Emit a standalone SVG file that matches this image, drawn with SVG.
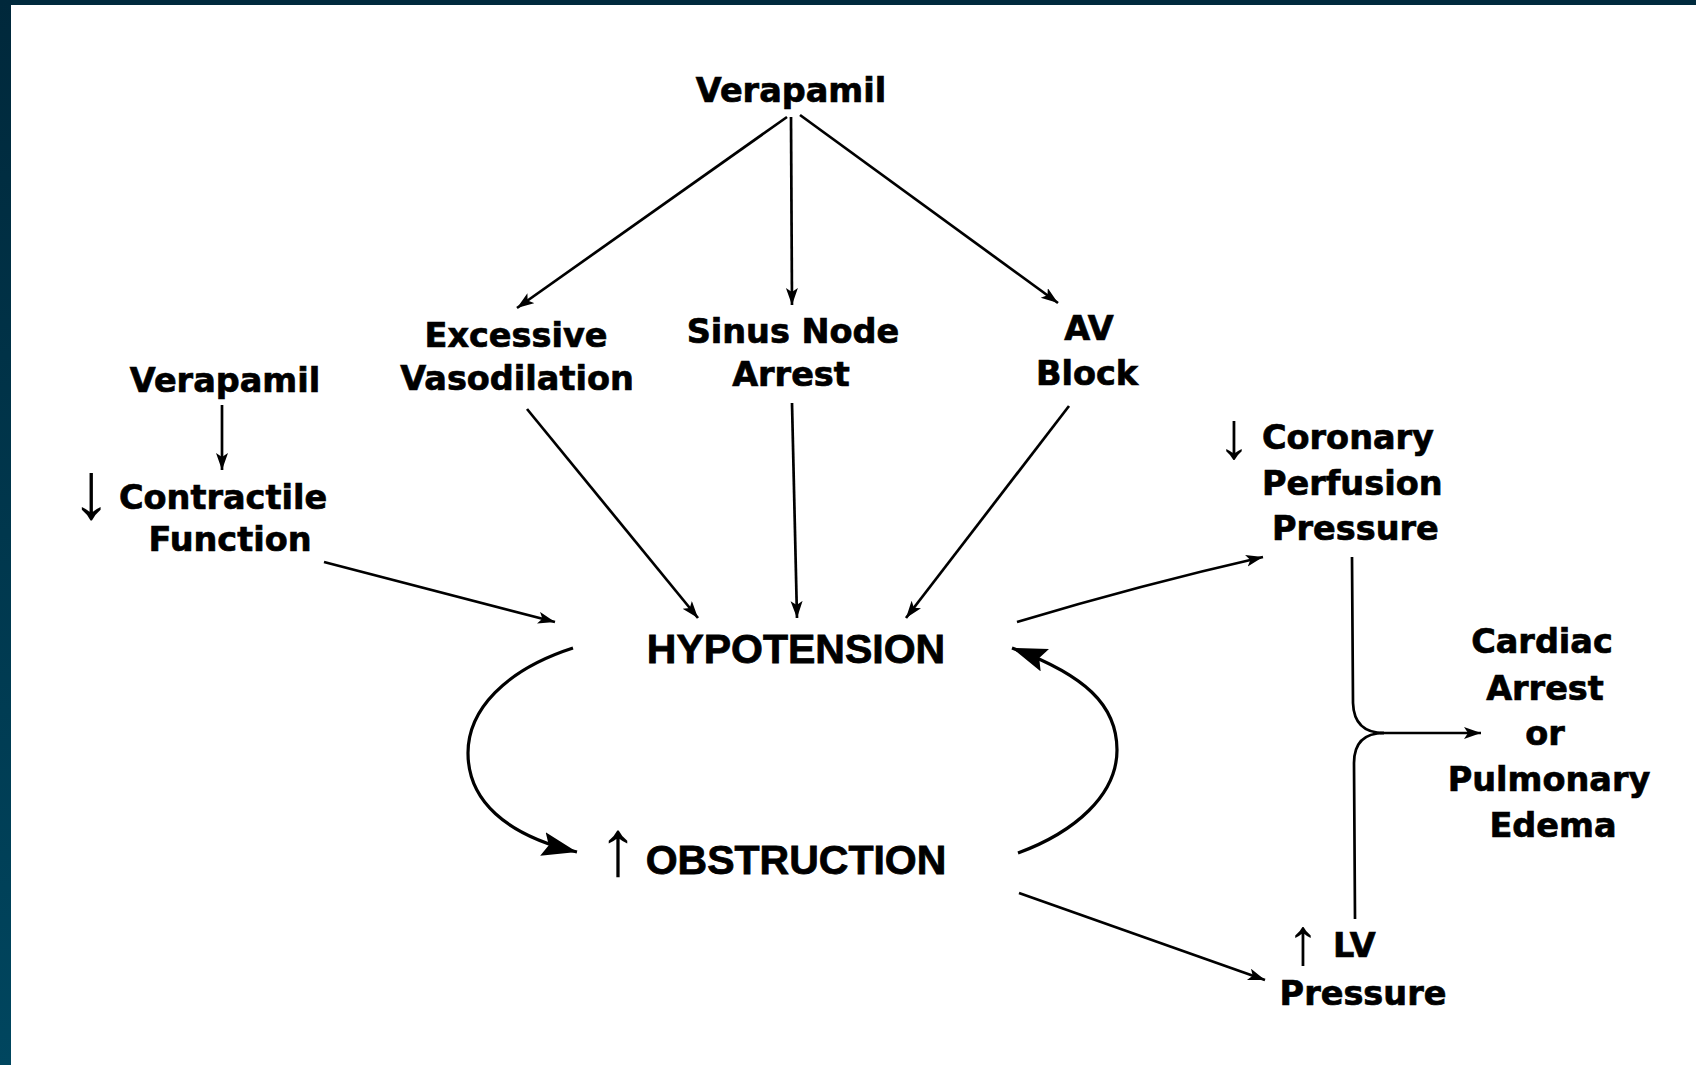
<svg xmlns="http://www.w3.org/2000/svg" width="1696" height="1065" viewBox="0 0 1696 1065">
  <defs>
    <linearGradient id="edge" x1="0" y1="0" x2="0" y2="1">
      <stop offset="0" stop-color="#00283b"/>
      <stop offset="1" stop-color="#00465f"/>
    </linearGradient>
    <marker id="ah" markerUnits="userSpaceOnUse" markerWidth="20" markerHeight="14" refX="17" refY="6" orient="auto">
      <path d="M0,0 L17,6 L0,12 L4,6 z" fill="#000"/>
    </marker>
    <marker id="big" markerUnits="userSpaceOnUse" markerWidth="38" markerHeight="26" refX="35" refY="12" orient="auto">
      <path d="M0,0 L35,12 L0,24 L6,12 z" fill="#000"/>
    </marker>
    <style>
      .lbl { font-family: "DejaVu Sans", "Liberation Sans", sans-serif; font-weight: bold; font-size: 33.5px; fill: #000; stroke: #000; stroke-width: 0.7px; }
      .cap { font-family: "Liberation Sans", Arial, sans-serif; font-weight: bold; font-size: 41px; fill: #000; stroke: #000; stroke-width: 0.8px; }
      .sym { font-family: "Liberation Sans", Arial, sans-serif; font-weight: normal; fill: #000; }
      .ln { fill: none; stroke: #000; stroke-width: 2.7; }
      .arr { marker-end: url(#ah); }
      .barr { marker-end: url(#big); stroke-width: 3.2; }
    </style>
  </defs>
  <rect x="0" y="0" width="1696" height="1065" fill="#fff"/>
  <rect x="0" y="0" width="1696" height="5" fill="#002a3d"/>
  <rect x="0" y="0" width="11" height="1065" fill="url(#edge)"/>

  <g id="connectors">
    <path class="ln arr" d="M787,117 L517,308"/>
    <path class="ln arr" d="M791,117 L792,305"/>
    <path class="ln arr" d="M800,115 L1058,303"/>
    <path class="ln arr" d="M222,405 L222,470"/>
    <path class="ln arr" d="M324,562 L555,622"/>
    <path class="ln arr" d="M527,409 L698,618"/>
    <path class="ln arr" d="M792,403 L797,618"/>
    <path class="ln arr" d="M1069,406 L906,618"/>
    <path class="ln arr" d="M1017,622 Q1140,585 1263,557"/>
    <path class="ln arr" d="M1019,893 L1265,980"/>
    <path class="ln barr" d="M573,648 C505,670 468,710 468,753 C468,800 505,835 577,852"/>
    <path class="ln barr" d="M1018,853 C1075,832 1117,795 1117,750 C1117,705 1085,675 1012,648"/>
    <path class="ln" d="M1352,557 L1353,703 Q1354,733 1384,733"/>
    <path class="ln" d="M1355,919 L1354,763 Q1354,733 1384,733"/>
    <path class="ln arr" d="M1380,733 L1481,733"/>
  </g>

  <g id="node-verapamil-top"><text class="lbl" x="791" y="102" text-anchor="middle">Verapamil</text></g>
  <g id="node-excessive-vasodilation">
    <text class="lbl" x="516" y="347" text-anchor="middle">Excessive</text>
    <text class="lbl" x="517" y="390" text-anchor="middle">Vasodilation</text>
  </g>
  <g id="node-sinus-node-arrest">
    <text class="lbl" x="793" y="343" text-anchor="middle">Sinus Node</text>
    <text class="lbl" x="791" y="386" text-anchor="middle">Arrest</text>
  </g>
  <g id="node-av-block">
    <text class="lbl" x="1089" y="340" text-anchor="middle">AV</text>
    <text class="lbl" x="1087" y="385" text-anchor="middle">Block</text>
  </g>
  <g id="node-verapamil-left"><text class="lbl" x="225" y="392" text-anchor="middle">Verapamil</text></g>
  <g id="node-contractile-function">
    <text class="sym" x="91" y="518" font-size="80" text-anchor="middle">↓</text>
    <text class="lbl" x="119" y="509">Contractile</text>
    <text class="lbl" x="230" y="551" text-anchor="middle">Function</text>
  </g>
  <g id="node-hypotension"><text class="cap" x="796" y="663" text-anchor="middle">HYPOTENSION</text></g>
  <g id="node-obstruction">
    <text class="sym" x="618" y="875" font-size="79" text-anchor="middle">↑</text>
    <text class="cap" x="796" y="874" text-anchor="middle">OBSTRUCTION</text>
  </g>
  <g id="node-coronary-perfusion-pressure">
    <text class="sym" x="1234" y="458" font-size="66" text-anchor="middle">↓</text>
    <text class="lbl" x="1262" y="449">Coronary</text>
    <text class="lbl" x="1262" y="495">Perfusion</text>
    <text class="lbl" x="1272" y="540">Pressure</text>
  </g>
  <g id="node-cardiac-arrest">
    <text class="lbl" x="1542" y="653" text-anchor="middle">Cardiac</text>
    <text class="lbl" x="1545" y="700" text-anchor="middle">Arrest</text>
    <text class="lbl" x="1545" y="745" text-anchor="middle">or</text>
    <text class="lbl" x="1549" y="791" text-anchor="middle">Pulmonary</text>
    <text class="lbl" x="1553" y="837" text-anchor="middle">Edema</text>
  </g>
  <g id="node-lv-pressure">
    <text class="sym" x="1303" y="964" font-size="66" text-anchor="middle">↑</text>
    <text class="lbl" x="1333" y="957">LV</text>
    <text class="lbl" x="1363" y="1005" text-anchor="middle">Pressure</text>
  </g>
</svg>
